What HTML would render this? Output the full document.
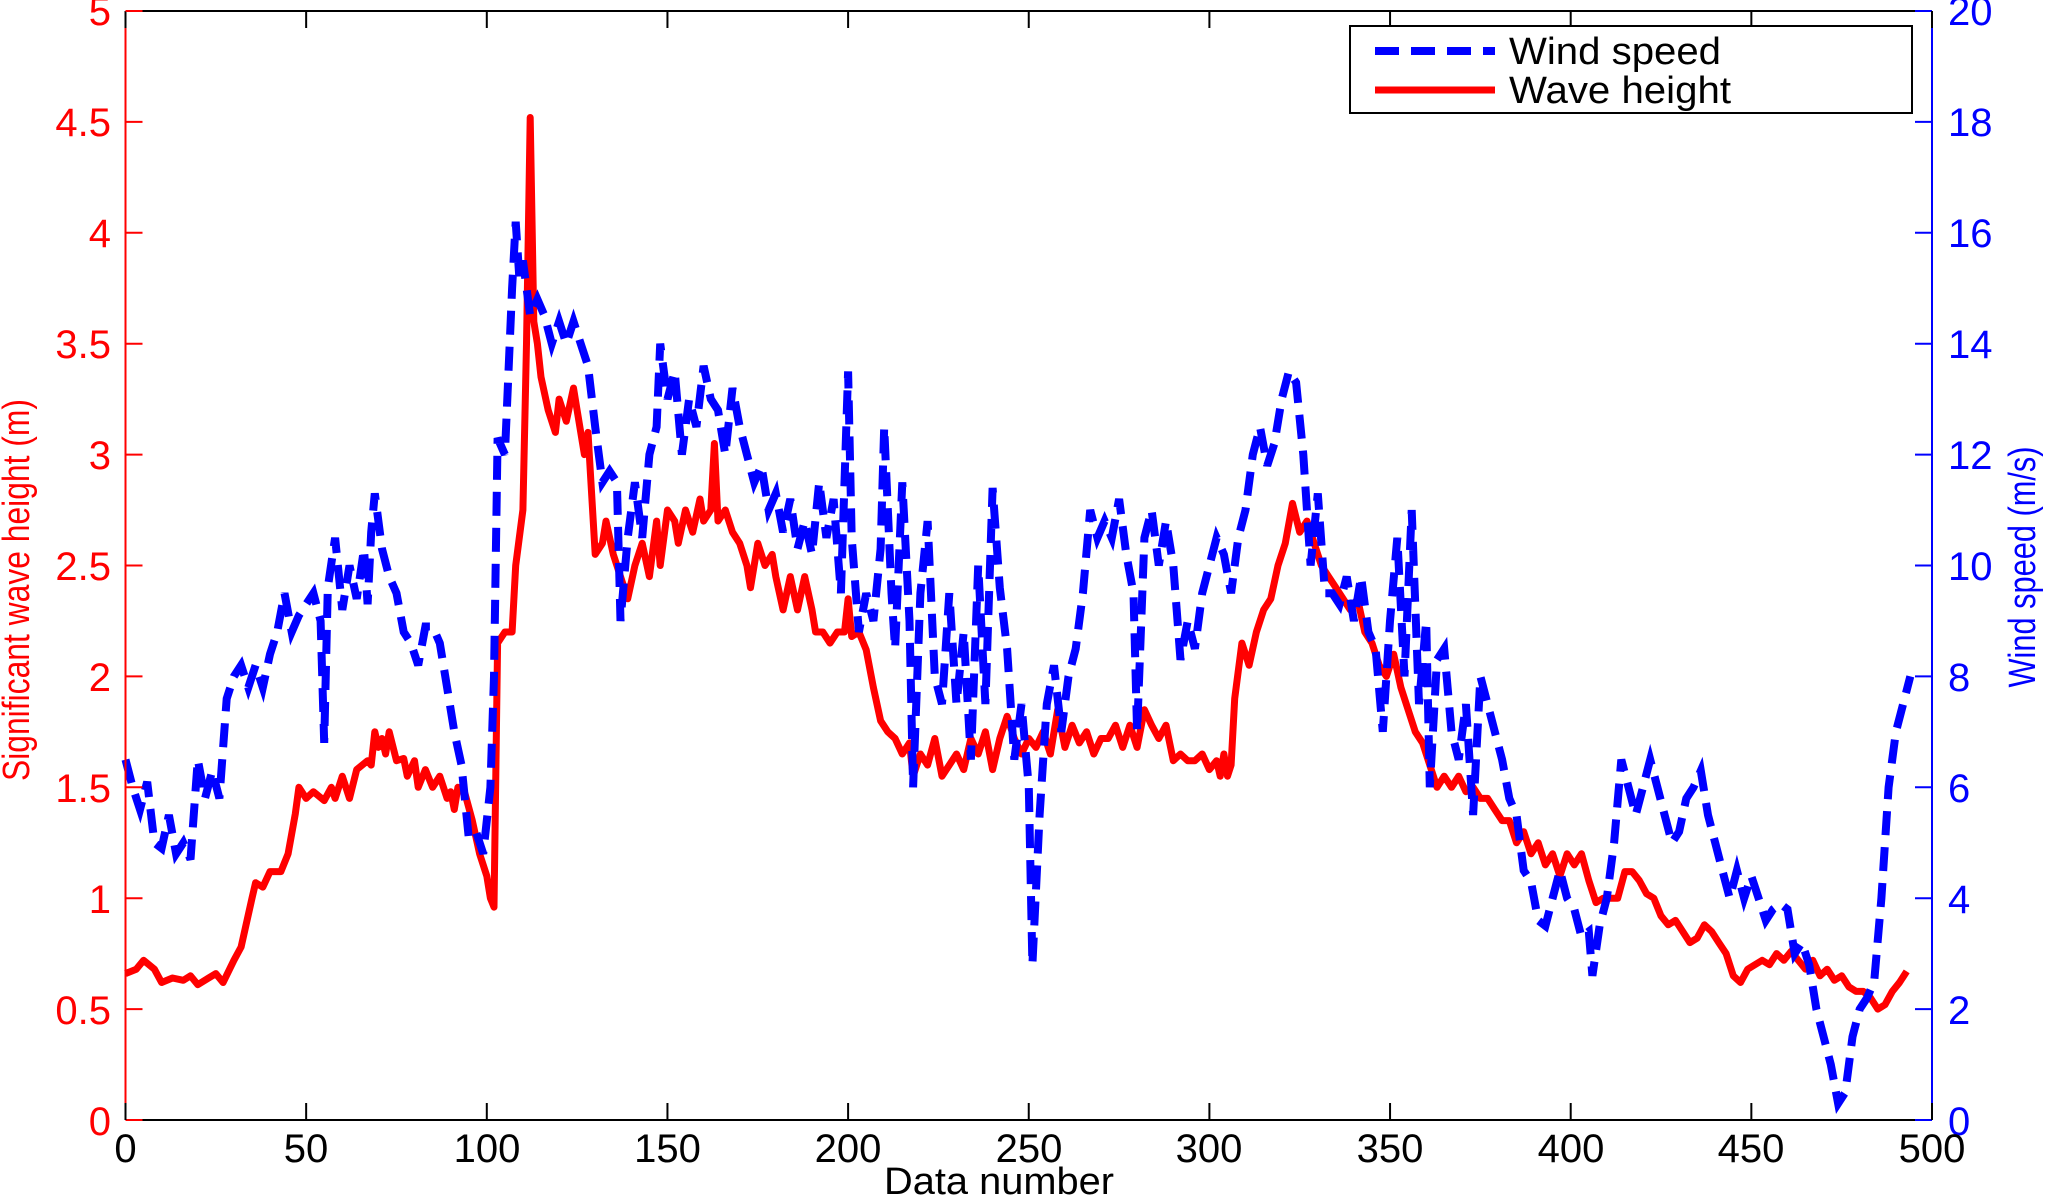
<!DOCTYPE html>
<html><head><meta charset="utf-8"><style>
html,body{margin:0;padding:0;background:#fff;}
svg{display:block;font-family:"Liberation Sans",sans-serif;}
</style></head><body>
<svg id="s" width="2045" height="1197" viewBox="0 0 2045 1197" xmlns="http://www.w3.org/2000/svg">
<g id="series"></g>
<g id="axes"></g>
<text x="999" y="1194" font-size="38" text-anchor="middle" textLength="230" lengthAdjust="spacingAndGlyphs">Data number</text>
<text transform="translate(29,590) rotate(-90)" font-size="38" fill="#f00" text-anchor="middle" textLength="382" lengthAdjust="spacingAndGlyphs">Significant wave height (m)</text>
<text transform="translate(2035,567) rotate(-90)" font-size="38" fill="#00f" text-anchor="middle" textLength="241" lengthAdjust="spacingAndGlyphs">Wind speed (m/s)</text>
<rect x="1350" y="26" width="562" height="87" fill="#fff" stroke="#000" stroke-width="2"/>
<line x1="1375" y1="51" x2="1495" y2="51" stroke="#00f" stroke-width="8" stroke-dasharray="24,12"/>
<line x1="1375" y1="90" x2="1495" y2="90" stroke="#f00" stroke-width="7"/>
<text x="1509" y="64" font-size="38" textLength="212" lengthAdjust="spacingAndGlyphs">Wind speed</text>
<text x="1509" y="103" font-size="38" textLength="222" lengthAdjust="spacingAndGlyphs">Wave height</text>
<g font-size="40">
<text x="111" y="25" fill="#f00" text-anchor="end">5</text>
<text x="111" y="136" fill="#f00" text-anchor="end">4.5</text>
<text x="111" y="247" fill="#f00" text-anchor="end">4</text>
<text x="111" y="358" fill="#f00" text-anchor="end">3.5</text>
<text x="111" y="469" fill="#f00" text-anchor="end">3</text>
<text x="111" y="580" fill="#f00" text-anchor="end">2.5</text>
<text x="111" y="691" fill="#f00" text-anchor="end">2</text>
<text x="111" y="802" fill="#f00" text-anchor="end">1.5</text>
<text x="111" y="913" fill="#f00" text-anchor="end">1</text>
<text x="111" y="1024" fill="#f00" text-anchor="end">0.5</text>
<text x="111" y="1135" fill="#f00" text-anchor="end">0</text>
<text x="1948" y="25" fill="#00f">20</text>
<text x="1948" y="136" fill="#00f">18</text>
<text x="1948" y="247" fill="#00f">16</text>
<text x="1948" y="358" fill="#00f">14</text>
<text x="1948" y="469" fill="#00f">12</text>
<text x="1948" y="580" fill="#00f">10</text>
<text x="1948" y="691" fill="#00f">8</text>
<text x="1948" y="802" fill="#00f">6</text>
<text x="1948" y="913" fill="#00f">4</text>
<text x="1948" y="1024" fill="#00f">2</text>
<text x="1948" y="1135" fill="#00f">0</text>
<text x="125.5" y="1162" text-anchor="middle">0</text>
<text x="306" y="1162" text-anchor="middle">50</text>
<text x="487" y="1162" text-anchor="middle">100</text>
<text x="667.5" y="1162" text-anchor="middle">150</text>
<text x="848" y="1162" text-anchor="middle">200</text>
<text x="1029" y="1162" text-anchor="middle">250</text>
<text x="1209" y="1162" text-anchor="middle">300</text>
<text x="1390" y="1162" text-anchor="middle">350</text>
<text x="1571" y="1162" text-anchor="middle">400</text>
<text x="1751" y="1162" text-anchor="middle">450</text>
<text x="1932" y="1162" text-anchor="middle">500</text>
</g>
</svg>
<script>
var X0=125.5,X1=1932,Y0=11,Y1=1120;
function x(i){return X0+i*(X1-X0)/500;}
var red=[0,0.66,3,0.68,5,0.72,8,0.68,10,0.62,13,0.64,16,0.63,18,0.65,20,0.61,23,0.64,25,0.66,27,0.62,30,0.72,32,0.78,35,1.0,36,1.07,38,1.05,40,1.12,43,1.12,45,1.2,47,1.38,48,1.5,50,1.45,52,1.48,55,1.44,57,1.5,58,1.45,60,1.55,62,1.45,64,1.58,67,1.62,68,1.6,69,1.75,70,1.68,71,1.72,72,1.65,73,1.75,75,1.62,77,1.63,78,1.55,80,1.62,81,1.5,83,1.58,85,1.5,87,1.55,89,1.45,90,1.48,91,1.4,92,1.5,94,1.47,96,1.35,98,1.2,100,1.1,101,1.0,102,0.96,103,2.15,105,2.2,107,2.2,108,2.5,110,2.75,111,3.5,112,4.52,113,3.6,114,3.5,115,3.35,117,3.2,119,3.1,120,3.25,122,3.15,124,3.3,125,3.2,127,3.0,128,3.1,130,2.55,132,2.6,133,2.7,135,2.55,137,2.45,139,2.35,141,2.5,143,2.6,145,2.45,147,2.7,148,2.5,150,2.75,152,2.7,153,2.6,155,2.75,157,2.65,159,2.8,160,2.7,162,2.75,163,3.05,164,2.7,166,2.75,168,2.65,170,2.6,172,2.5,173,2.4,175,2.6,177,2.5,179,2.55,180,2.45,182,2.3,184,2.45,186,2.3,188,2.45,190,2.3,191,2.2,193,2.2,195,2.15,197,2.2,199,2.2,200,2.35,201,2.18,203,2.2,205,2.12,207,1.95,209,1.8,211,1.75,213,1.72,215,1.65,217,1.7,218,1.55,220,1.65,222,1.6,224,1.72,226,1.55,228,1.6,230,1.65,232,1.58,234,1.72,236,1.65,238,1.75,240,1.58,242,1.72,244,1.82,246,1.72,248,1.65,250,1.72,252,1.68,254,1.75,256,1.65,258,1.85,260,1.68,262,1.78,264,1.7,266,1.75,268,1.65,270,1.72,272,1.72,274,1.78,276,1.68,278,1.78,280,1.68,282,1.85,284,1.78,286,1.72,288,1.78,290,1.62,292,1.65,294,1.62,296,1.62,298,1.65,300,1.58,302,1.62,303,1.55,304,1.65,305,1.55,306,1.6,307,1.9,309,2.15,311,2.05,313,2.2,315,2.3,317,2.35,319,2.5,321,2.6,323,2.78,325,2.65,327,2.7,329,2.6,331,2.5,333,2.45,335,2.4,337,2.35,339,2.3,341,2.35,343,2.2,345,2.15,347,2.05,349,2.0,351,2.1,353,1.95,355,1.85,357,1.75,359,1.7,361,1.6,363,1.5,365,1.55,367,1.5,369,1.55,371,1.48,373,1.5,375,1.45,377,1.45,379,1.4,381,1.35,383,1.35,385,1.25,387,1.3,389,1.2,391,1.25,393,1.15,395,1.2,397,1.1,399,1.2,401,1.15,403,1.2,405,1.08,407,0.98,409,1.0,411,1.0,413,1.0,415,1.12,417,1.12,419,1.08,421,1.02,423,1.0,425,0.92,427,0.88,429,0.9,431,0.85,433,0.8,435,0.82,437,0.88,439,0.85,441,0.8,443,0.75,445,0.65,447,0.62,449,0.68,451,0.7,453,0.72,455,0.7,457,0.75,459,0.72,461,0.76,463,0.72,465,0.68,467,0.72,469,0.65,471,0.68,473,0.63,475,0.65,477,0.6,479,0.58,481,0.58,483,0.55,485,0.5,487,0.52,489,0.58,491,0.62,493,0.67];
var blue=[0,6.5,2,6.0,4,5.6,6,6.1,8,5.0,10,4.9,12,5.5,14,4.8,16,5.0,18,4.7,20,6.5,22,5.8,24,6.3,26,5.8,28,7.6,30,8.0,32,8.2,34,7.8,36,8.2,38,7.8,40,8.4,42,8.8,44,9.5,46,8.8,48,9.1,50,9.3,52,9.5,54,9.0,55,6.8,56,9.6,58,10.5,60,9.2,62,10.0,64,9.4,66,10.3,67,9.3,68,10.6,69,11.3,71,10.3,73,9.8,75,9.5,77,8.8,79,8.6,81,8.2,83,8.9,85,8.9,87,8.6,89,7.8,91,7.0,93,6.4,95,5.1,97,5.2,99,4.8,101,6.0,102,8.0,103,12.3,105,12.0,107,15.0,108,16.2,109,15.2,110,15.5,112,14.5,114,14.8,116,14.5,118,14.0,120,14.4,122,14.0,124,14.4,126,14.0,128,13.6,130,12.5,132,11.5,134,11.7,136,11.5,137,9.0,139,10.5,141,11.5,143,10.5,145,12.0,147,12.5,148,14.0,150,13.0,152,13.5,154,12.0,156,13.0,158,12.5,160,13.6,162,13.0,164,12.8,166,12.0,168,13.2,170,12.5,172,12.0,174,11.5,176,11.8,178,11.0,180,11.3,182,10.6,184,11.2,186,10.3,188,10.8,190,10.2,192,11.5,194,10.5,196,11.2,198,9.5,200,13.5,201,10.5,203,8.8,205,9.5,207,9.0,209,10.3,210,12.5,212,9.5,213,8.5,215,11.5,217,9.0,218,6.0,220,9.5,222,10.8,224,8.0,226,7.5,228,9.5,230,7.5,232,8.8,234,6.5,236,10.0,238,7.5,240,11.4,242,9.6,244,8.5,246,6.5,248,7.5,250,6.0,251,2.8,253,5.5,255,7.5,257,8.2,259,7.0,261,8.0,263,8.5,265,9.5,267,11.0,269,10.5,271,10.8,273,10.5,275,11.2,277,10.2,279,9.5,280,7.0,282,10.5,284,11.0,286,10.0,288,10.8,290,10.0,292,8.3,294,9.0,296,8.5,298,9.5,300,10.0,302,10.5,304,10.2,306,9.5,308,10.5,310,11.0,312,12.0,314,12.5,316,11.8,318,12.2,320,13.0,322,13.5,324,13.3,326,12.0,328,10.0,330,11.3,332,9.5,334,9.5,336,9.3,338,9.8,340,9.0,342,9.8,344,8.8,346,8.5,348,7.0,350,9.0,352,10.5,354,8.0,356,11.0,358,7.5,360,9.0,361,6.0,363,8.3,365,8.5,367,7.0,369,6.5,371,7.5,373,5.5,375,8.0,377,7.5,379,7.0,381,6.5,383,5.8,385,5.5,387,4.5,389,4.3,391,3.6,393,3.5,395,4.0,397,4.5,399,4.0,401,3.8,403,3.3,405,3.4,406,2.6,408,3.5,410,4.0,412,5.0,414,6.5,416,6.0,418,5.5,420,6.0,422,6.5,424,6.0,426,5.5,428,5.0,430,5.2,432,5.8,434,6.0,436,6.3,438,5.5,440,5.0,442,4.5,444,4.0,446,4.5,448,4.0,450,4.4,452,4.0,454,3.6,456,3.8,458,3.9,460,3.8,462,3.0,464,3.2,466,2.8,468,2.0,470,1.5,472,1.0,474,0.3,476,0.5,478,1.5,480,2.0,482,2.2,484,2.5,486,4.0,488,6.0,490,7.0,492,7.5,494,8.0];
function pts(a,s){var r=[];for(var k=0;k<a.length;k+=2)r.push(x(a[k]).toFixed(1)+","+(Y1-a[k+1]*s).toFixed(1));return r.join(" ");}
var NS="http://www.w3.org/2000/svg";
function el(p,t,at){var e=document.createElementNS(NS,t);for(var k in at)e.setAttribute(k,at[k]);p.appendChild(e);return e;}
var g=document.getElementById("series");
el(g,"polyline",{points:pts(red,(Y1-Y0)/5),fill:"none",stroke:"#f00","stroke-width":7,"stroke-linejoin":"round"});
el(g,"polyline",{points:pts(blue,(Y1-Y0)/20),fill:"none",stroke:"#00f","stroke-width":8,"stroke-dasharray":"24,12"});
var a=document.getElementById("axes");
el(a,"line",{x1:X0,y1:Y0,x2:X1,y2:Y0,stroke:"#000","stroke-width":2});
el(a,"line",{x1:X0,y1:Y1,x2:X1,y2:Y1,stroke:"#000","stroke-width":2});
el(a,"line",{x1:X0,y1:Y0,x2:X0,y2:Y1,stroke:"#f00","stroke-width":2});
el(a,"line",{x1:X1,y1:Y0,x2:X1,y2:Y1,stroke:"#00f","stroke-width":2});
for(var i=0;i<=10;i++){var yy=Y1-i*(Y1-Y0)/10;
el(a,"line",{x1:X0,y1:yy,x2:X0+17,y2:yy,stroke:"#f00","stroke-width":2});
el(a,"line",{x1:X1,y1:yy,x2:X1-17,y2:yy,stroke:"#00f","stroke-width":2});
var xx=x(i*50);
el(a,"line",{x1:xx,y1:Y1,x2:xx,y2:Y1-17,stroke:"#000","stroke-width":2});
el(a,"line",{x1:xx,y1:Y0,x2:xx,y2:Y0+17,stroke:"#000","stroke-width":2});}
</script>
</body></html>
